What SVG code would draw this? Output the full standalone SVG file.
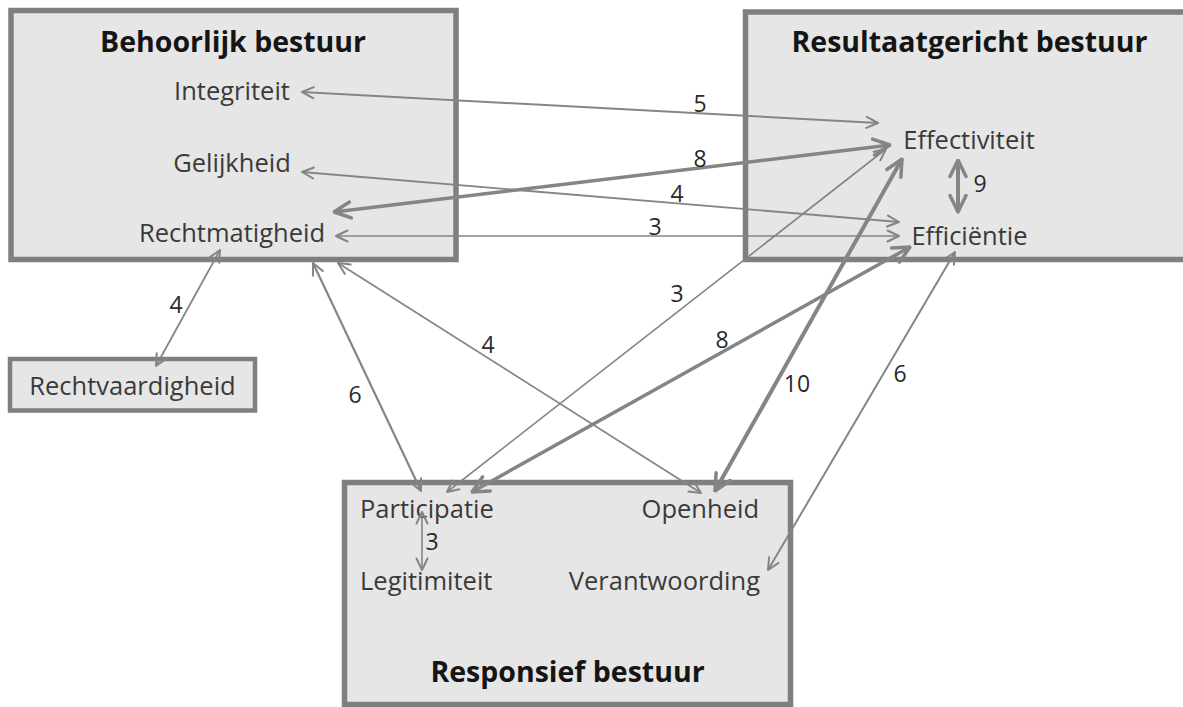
<svg xmlns="http://www.w3.org/2000/svg" width="1183" height="707" viewBox="0 0 1183 707">
<style>
.box{fill:#e6e6e6;stroke:#7f7f7f;stroke-width:5.5}
.box4{fill:#e6e6e6;stroke:#7f7f7f;stroke-width:4.5}
.t{font-family:"Open Sans","Liberation Sans",sans-serif;font-size:25.5px;fill:#3a3a3a}
.h{font-family:"Open Sans","Liberation Sans",sans-serif;font-size:28.5px;font-weight:bold;fill:#151515}
.n{font-family:"Open Sans","Liberation Sans",sans-serif;font-size:23px;fill:#2a2a2a;text-anchor:middle}
.c{stroke:#858585;fill:none;marker-start:url(#ah);marker-end:url(#ah)}
.k{stroke:#858585;fill:none;marker-start:url(#ahk);marker-end:url(#ahk)}
.mid{text-anchor:middle}
.end{text-anchor:end}
</style>
<defs>
<marker id="ah" viewBox="0 0 14 14" refX="13" refY="7" markerWidth="14" markerHeight="14" markerUnits="userSpaceOnUse" orient="auto-start-reverse">
<path d="M1.5,1.5 L13,7 L1.5,12.5" fill="none" stroke="#858585" stroke-width="2" stroke-linejoin="round" stroke-linecap="round"/>
</marker>
<marker id="ahk" viewBox="0 0 20 20" refX="18.5" refY="10" markerWidth="20" markerHeight="20" markerUnits="userSpaceOnUse" orient="auto-start-reverse">
<path d="M2,2 L18.5,10 L2,18" fill="none" stroke="#858585" stroke-width="3.5" stroke-linejoin="round" stroke-linecap="round"/>
</marker>
</defs>
<rect width="1183" height="707" fill="#ffffff"/>
<g id="behoorlijk">
<rect class="box" x="11" y="10.5" width="445" height="249"/>
<text class="h mid" x="233" y="52">Behoorlijk bestuur</text>
<text class="t mid" x="232" y="100">Integriteit</text>
<text class="t mid" x="232" y="172">Gelijkheid</text>
<text class="t mid" x="232" y="242">Rechtmatigheid</text>
</g>
<g id="resultaat">
<rect class="box" x="745.5" y="12" width="442" height="247.5"/>
<text class="h mid" x="969.5" y="52">Resultaatgericht bestuur</text>
<text class="t mid" x="969" y="149">Effectiviteit</text>
<text class="t mid" x="969.5" y="245">Efficiëntie</text>
</g>
<g id="responsief">
<rect class="box" x="344.5" y="482.5" width="446" height="222"/>
<text class="t" x="360" y="518">Participatie</text>
<text class="t end" x="759" y="518">Openheid</text>
<text class="t" x="360" y="590">Legitimiteit</text>
<text class="t end" x="760" y="590">Verantwoording</text>
<text class="h mid" x="567.5" y="682">Responsief bestuur</text>
</g>
<g id="rechtvaardigheid">
<rect class="box4" x="10" y="359" width="245" height="51.5"/>
<text class="t mid" x="132.5" y="395">Rechtvaardigheid</text>
</g>
<g id="connectors">
<line class="c" x1="302" y1="92" x2="878" y2="123" stroke-width="2"/>
<line class="k" x1="334" y1="212" x2="890" y2="145" stroke-width="3.5"/>
<line class="c" x1="302" y1="172" x2="899" y2="222" stroke-width="1.8"/>
<line class="c" x1="336" y1="236" x2="899" y2="236" stroke-width="1.6"/>
<line class="c" x1="220" y1="250" x2="156" y2="366" stroke-width="1.8"/>
<line class="c" x1="313" y1="263" x2="421" y2="491" stroke-width="2.2"/>
<line class="c" x1="338" y1="263" x2="701" y2="493" stroke-width="1.8"/>
<line class="c" x1="447" y1="492" x2="886" y2="149" stroke-width="1.6"/>
<line class="k" x1="472" y1="492" x2="910" y2="247" stroke-width="3.5"/>
<line class="k" x1="715" y1="491" x2="902" y2="159" stroke-width="4"/>
<line class="c" x1="955" y1="252" x2="768" y2="570" stroke-width="2"/>
<line class="k" x1="958" y1="160" x2="958" y2="212" stroke-width="4"/>
<line class="c" x1="422" y1="512" x2="422" y2="570" stroke-width="1.6"/>
<text class="n" x="700" y="112">5</text>
<text class="n" x="700" y="167">8</text>
<text class="n" x="677" y="202">4</text>
<text class="n" x="655" y="235">3</text>
<text class="n" x="176" y="313">4</text>
<text class="n" x="355" y="403">6</text>
<text class="n" x="488" y="353">4</text>
<text class="n" x="677" y="302">3</text>
<text class="n" x="722" y="348">8</text>
<text class="n" x="797" y="392">10</text>
<text class="n" x="900" y="382">6</text>
<text class="n" x="980" y="192">9</text>
<text class="n" x="432" y="550">3</text>
</g>
</svg>
